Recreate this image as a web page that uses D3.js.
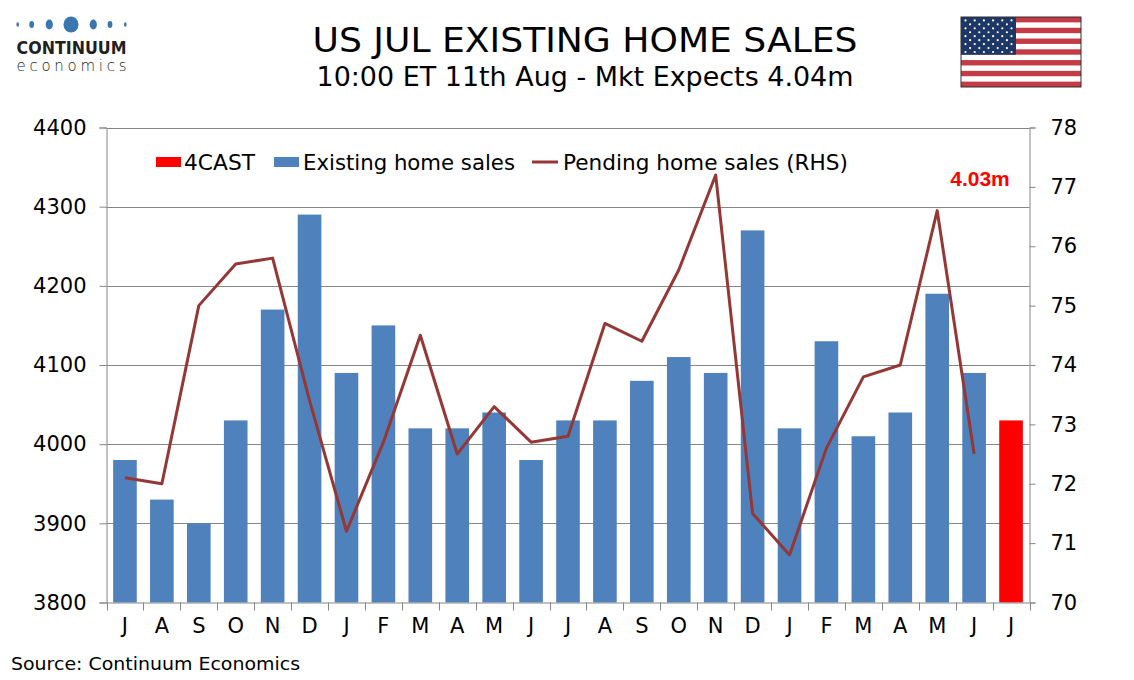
<!DOCTYPE html>
<html><head><meta charset="utf-8">
<script src="https://cdn.jsdelivr.net/npm/d3@7"></script>
<style>
html,body{margin:0;padding:0;background:#fff;}
svg{display:block;font-family:"DejaVu Sans",Verdana,sans-serif;}
</style></head>
<body>
<svg id="chart" width="1134" height="680"></svg>
<script>
const months = ["J","A","S","O","N","D","J","F","M","A","M","J","J","A","S","O","N","D","J","F","M","A","M","J","J"];
const existingSales = [3980,3930,3900,4030,4170,4290,4090,4150,4020,4020,4040,3980,4030,4030,4080,4110,4090,4270,4020,4130,4010,4040,4190,4090,null];
const forecast = [null,null,null,null,null,null,null,null,null,null,null,null,null,null,null,null,null,null,null,null,null,null,null,null,4030];
const pendingSales = [72.1,72.0,75.0,75.7,75.8,73.4,71.2,72.7,74.5,72.5,73.3,72.7,72.8,74.7,74.4,75.6,77.2,71.5,70.8,72.6,73.8,74.0,76.6,72.5,null];
const leftTicks = [3800,3900,4000,4100,4200,4300,4400];
const rightTicks = [70,71,72,73,74,75,76,77,78];
const titleText = "US JUL EXISTING HOME SALES";
const subtitleText = "10:00 ET 11th Aug - Mkt Expects 4.04m";
const forecastLabel = "4.03m";
const legendNames = ["4CAST","Existing home sales","Pending home sales (RHS)"];

const svg = d3.select("#chart");
const L = 106.5, R = 1029.5, T = 127.5, B = 602.5;
const idx = months.map((d,i)=>i);
const x = d3.scaleBand().domain(idx).range([L,R]).paddingInner(0.36).paddingOuter(0.18);
const xb = d3.scaleBand().domain(idx).range([L,R]);
const yL = d3.scaleLinear().domain([3800,4400]).range([B,T]);
const yR = d3.scaleLinear().domain([70,78]).range([B,T]);

const blue = "#4f81bd", red = "#ff0000", lineCol = "#953735", gridCol = "#868686";

// gridlines
svg.append("g").selectAll("line").data(leftTicks.slice(1)).join("line")
  .attr("x1",L).attr("x2",R).attr("y1",d=>Math.round(yL(d))+0.5).attr("y2",d=>Math.round(yL(d))+0.5)
  .attr("stroke",gridCol).attr("stroke-width",1);

// bars
svg.append("g").selectAll("rect").data(existingSales.map((v,i)=>({v,i})).filter(d=>d.v!==null)).join("rect")
  .attr("x",d=>x(d.i)).attr("width",x.bandwidth())
  .attr("y",d=>yL(d.v)).attr("height",d=>B-yL(d.v)).attr("fill",blue);
svg.append("g").selectAll("rect").data(forecast.map((v,i)=>({v,i})).filter(d=>d.v!==null)).join("rect")
  .attr("x",d=>x(d.i)).attr("width",x.bandwidth())
  .attr("y",d=>yL(d.v)).attr("height",d=>B-yL(d.v)).attr("fill",red);

// line
const line = d3.line().defined(d=>d.v!==null).x(d=>xb(d.i)+xb.bandwidth()/2).y(d=>yR(d.v));
svg.append("path").datum(pendingSales.map((v,i)=>({v,i})))
  .attr("d",line).attr("fill","none").attr("stroke",lineCol).attr("stroke-width",3).attr("stroke-linejoin","round");

// axes
const fs = "21px";
const gL = svg.append("g").attr("transform",`translate(${L},0)`)
  .call(d3.axisLeft(yL).tickValues(leftTicks).tickSize(7).tickPadding(13).tickFormat(d3.format("d")));
const gR = svg.append("g").attr("transform",`translate(${R},0)`)
  .call(d3.axisRight(yR).tickValues(rightTicks).tickSize(6).tickPadding(15).tickFormat(d3.format("d")));
const gX = svg.append("g").attr("transform",`translate(0,${B})`)
  .call(d3.axisBottom(xb).tickFormat(i=>months[i]).tickSize(0).tickPadding(16));
// x tick marks at category boundaries
svg.append("g").selectAll("line").data(d3.range(months.length+1)).join("line")
  .attr("x1",i=>Math.round(L+i*xb.step())+0.5).attr("x2",i=>Math.round(L+i*xb.step())+0.5)
  .attr("y1",B).attr("y2",B+8).attr("stroke",gridCol);
[gL,gR,gX].forEach(g=>{
  g.select(".domain").attr("stroke",gridCol);
  g.selectAll(".tick line").attr("stroke",gridCol);
  g.selectAll("text").attr("font-family","DejaVu Sans").attr("font-size",fs).attr("fill","#000");
});
gX.select(".domain").remove();
svg.append("line").attr("x1",L).attr("x2",R).attr("y1",B+0.5).attr("y2",B+0.5).attr("stroke",gridCol);

// legend
const lg = svg.append("g").attr("font-size","21px");
lg.append("rect").attr("x",156).attr("y",157).attr("width",25).attr("height",10).attr("fill",red);
lg.append("text").attr("x",184).attr("y",169.5).attr("textLength",71).attr("lengthAdjust","spacingAndGlyphs").text(legendNames[0]);
lg.append("rect").attr("x",274).attr("y",157).attr("width",25).attr("height",10).attr("fill",blue);
lg.append("text").attr("x",303).attr("y",169.5).attr("textLength",212).attr("lengthAdjust","spacingAndGlyphs").text(legendNames[1]);
lg.append("line").attr("x1",532).attr("x2",558).attr("y1",162).attr("y2",162).attr("stroke",lineCol).attr("stroke-width",3);
lg.append("text").attr("x",563).attr("y",169.5).attr("textLength",285).attr("lengthAdjust","spacingAndGlyphs").text(legendNames[2]);

// forecast label
svg.append("text").attr("x",980).attr("y",186).attr("text-anchor","middle")
  .attr("font-family","Liberation Sans, Arial, sans-serif").attr("font-weight","bold").attr("font-size","21px")
  .attr("fill",red).text(forecastLabel);

// titles
svg.append("text").attr("x",585).attr("y",52).attr("text-anchor","middle").attr("font-size","34px").attr("fill","#000")
  .attr("textLength",545).attr("lengthAdjust","spacingAndGlyphs").text(titleText);
svg.append("text").attr("x",585).attr("y",86).attr("text-anchor","middle").attr("font-size","26px").attr("fill","#000")
  .attr("textLength",537).attr("lengthAdjust","spacingAndGlyphs").text(subtitleText);

// source
svg.append("text").attr("x",11).attr("y",670).attr("font-size","18px").attr("fill","#000")
  .attr("textLength",289).attr("lengthAdjust","spacingAndGlyphs").text("Source: Continuum Economics");

// logo
const logo = svg.append("g");
const dots = [[17.7,1.3,2.2],[31.7,2.4,3.4],[49.3,3.6,5],[71,7.5,8],[93.3,3.6,5],[110,2.4,3.4],[125.3,1.3,2.2]];
logo.selectAll("ellipse").data(dots).join("ellipse")
  .attr("cx",d=>d[0]).attr("cy",24.5).attr("rx",d=>d[1]).attr("ry",d=>d[2]).attr("fill","#3a77b0");
logo.append("text").attr("x",16.5).attr("y",53.5).attr("font-family","DejaVu Sans Condensed, DejaVu Sans").attr("font-weight","bold")
  .attr("font-size","17px").attr("fill","#231f20").attr("textLength",110).attr("lengthAdjust","spacingAndGlyphs").text("CONTINUUM");
logo.append("text").attr("x",16.5).attr("y",71).attr("font-family","DejaVu Sans").attr("font-weight","300")
  .attr("font-size","15px").attr("fill","#231f20").attr("textLength",110).attr("lengthAdjust","spacing").text("economics");

// flag
const flag = svg.append("g").attr("transform","translate(961,17)");
const fw = 120, fh = 70, sh = fh/13;
flag.append("rect").attr("width",fw).attr("height",fh).attr("fill","#fff");
flag.selectAll("rect.s").data(d3.range(0,13,2)).join("rect").attr("class","s")
  .attr("x",0).attr("y",d=>d*sh).attr("width",fw).attr("height",sh).attr("fill","#c43b46");
flag.append("rect").attr("width",55).attr("height",sh*7).attr("fill","#1d3866");
const stars = [];
for(let r=0;r<9;r++){const n=r%2===0?6:5;for(let c=0;c<n;c++){stars.push([ (r%2===0? 4.5 + c*9.2 : 9.1 + c*9.2), 3.4 + r*3.95]);}}
flag.selectAll("circle").data(stars).join("circle").attr("cx",d=>d[0]).attr("cy",d=>d[1]).attr("r",1.1).attr("fill","#fff");
flag.append("rect").attr("width",fw).attr("height",fh).attr("fill","none").attr("stroke","#333").attr("stroke-width",1);
</script>
</body></html>
